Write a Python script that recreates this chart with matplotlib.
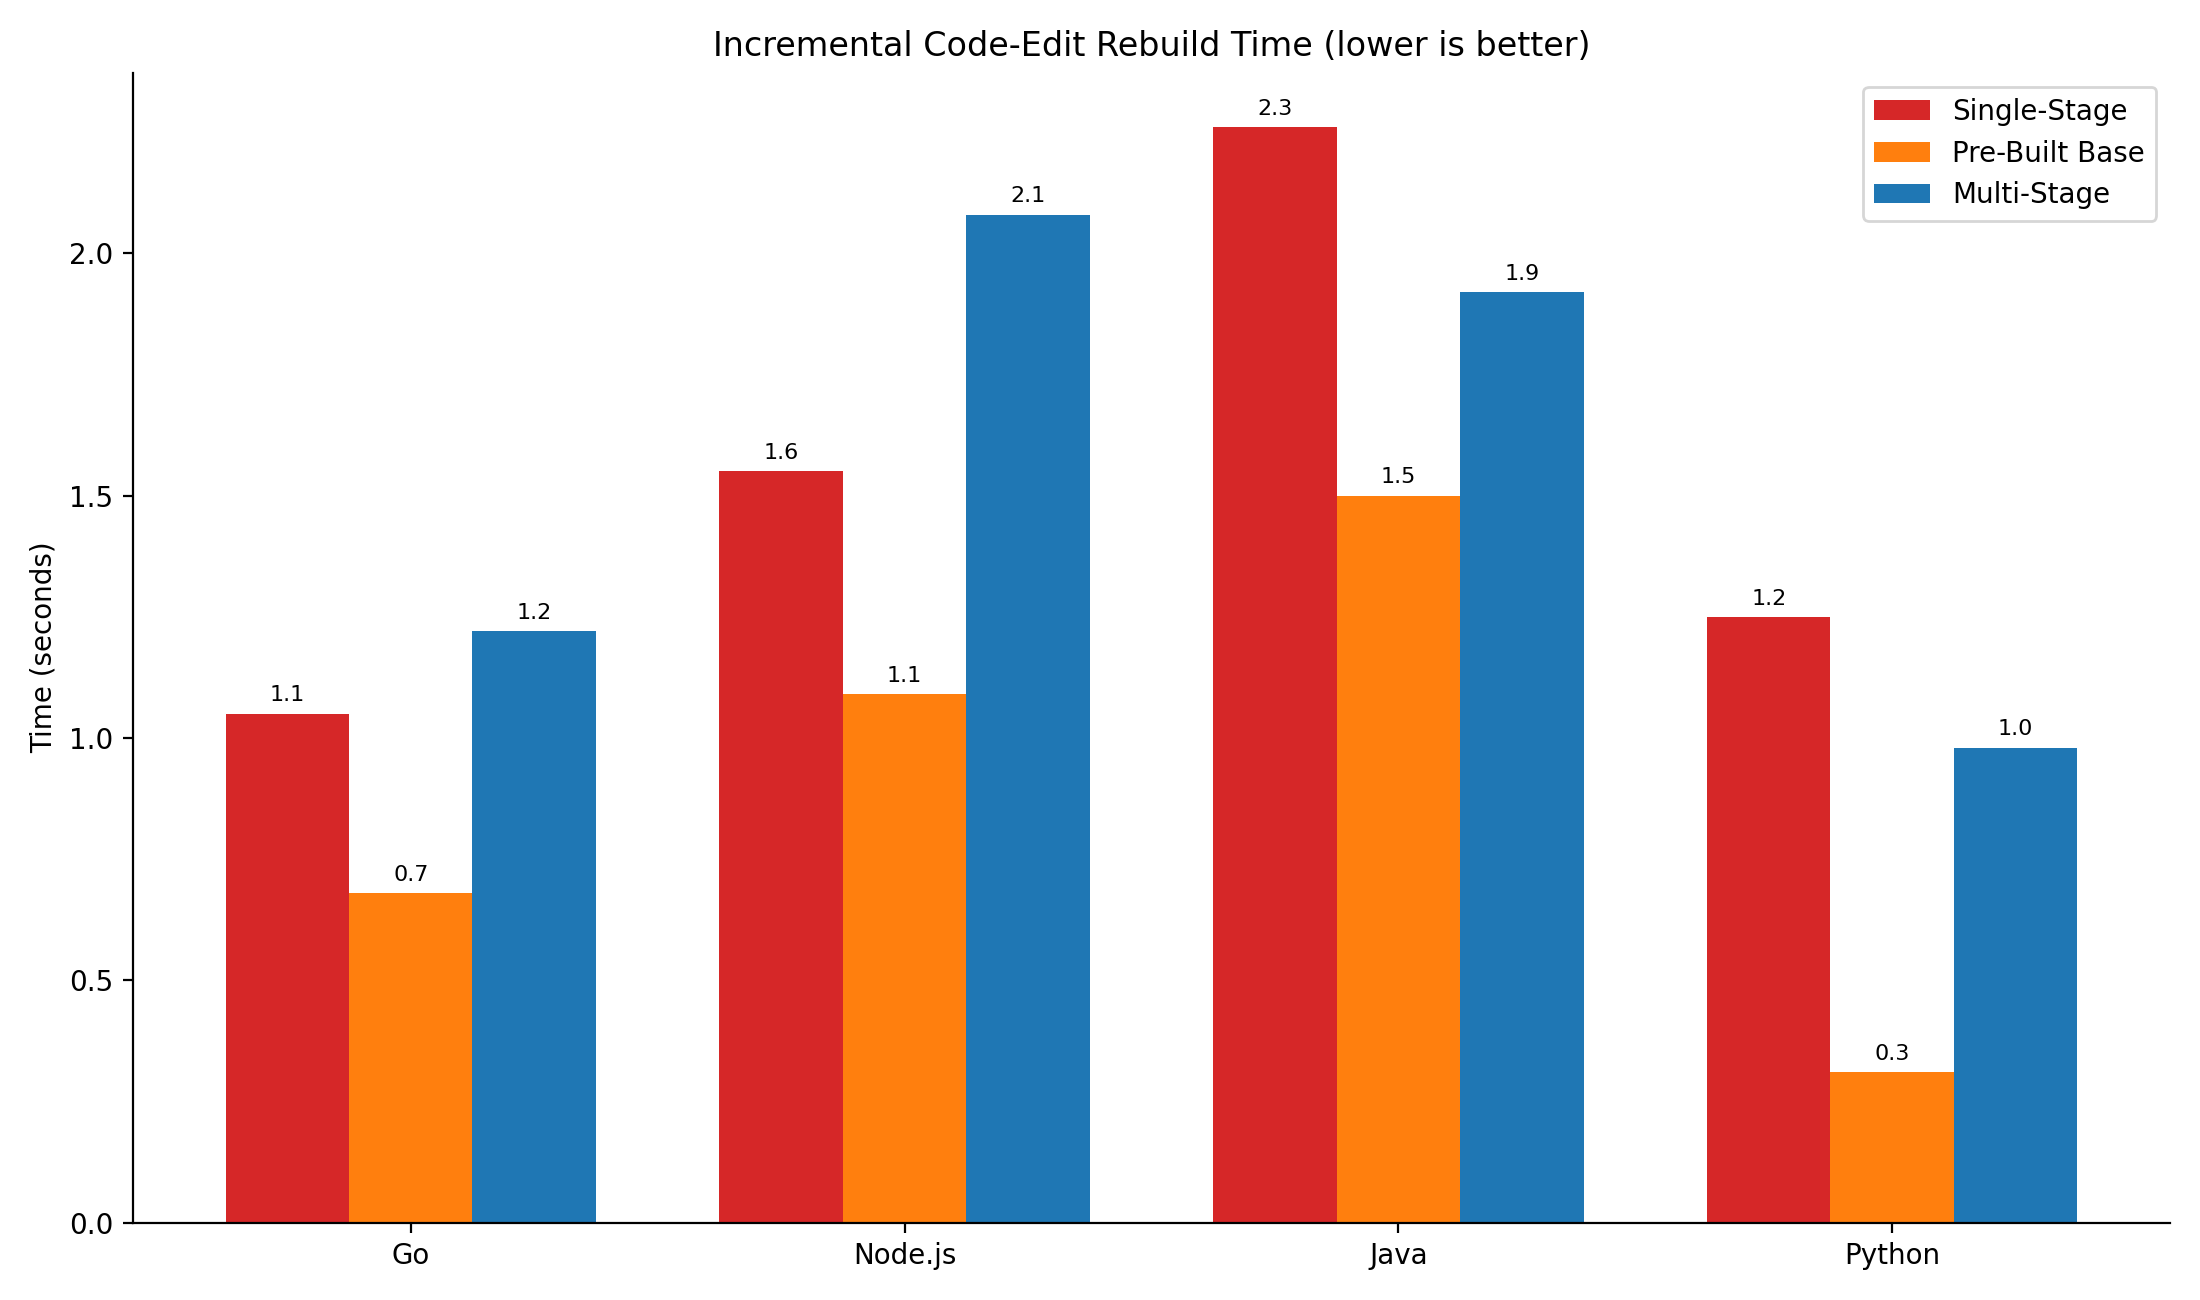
import numpy as np
import matplotlib.pyplot as plt

languages = ["Go", "Node.js", "Java", "Python"]
single_stage = [1.05, 1.55, 2.26, 1.25]
prebuilt_base = [0.68, 1.09, 1.50, 0.31]
multi_stage = [1.22, 2.08, 1.92, 0.98]

x = np.arange(len(languages))
width = 0.25

fig, ax = plt.subplots(figsize=(11, 6.5), dpi=200)

series = [
    ("Single-Stage", single_stage, "#d62728"),
    ("Pre-Built Base", prebuilt_base, "#ff7f0e"),
    ("Multi-Stage", multi_stage, "#1f77b4"),
]

for i, (name, vals, col) in enumerate(series):
    bars = ax.bar(x + (i - 1) * width, vals, width, label=name, color=col)
    for b, v in zip(bars, vals):
        ax.annotate(f"{v:.1f}", (b.get_x() + b.get_width() / 2, b.get_height()),
                    xytext=(0, 3), textcoords="offset points",
                    ha="center", va="bottom", fontsize=8)

ax.set_xticks(x)
ax.set_xticklabels(languages)
ax.set_ylabel("Time (seconds)")
ax.set_title("Incremental Code-Edit Rebuild Time (lower is better)", fontsize=12)
ax.legend(loc="upper right")
ax.spines["top"].set_visible(False)
ax.spines["right"].set_visible(False)

fig.tight_layout()
fig.savefig("out.png")
